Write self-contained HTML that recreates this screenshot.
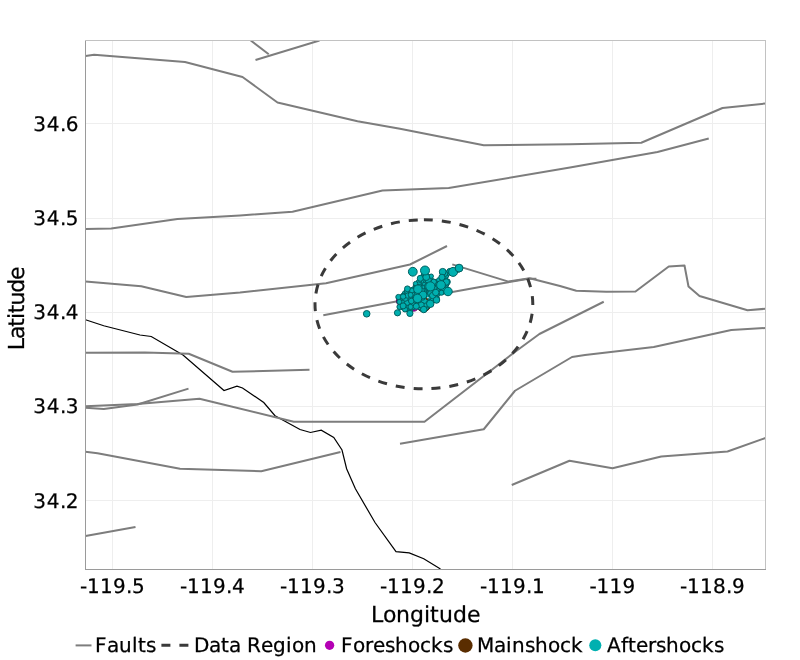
<!DOCTYPE html>
<html lang="en"><head><meta charset="utf-8"><title>Aftershock map</title>
<style>html,body{margin:0;padding:0;background:#fff}body{width:800px;height:660px;overflow:hidden}svg{display:block;will-change:transform}text{font-family:"DejaVu Sans", "Liberation Sans", sans-serif;fill:#000;font-kerning:none;font-variant-ligatures:none;text-rendering:geometricPrecision}</style>
</head><body>
<svg width="800" height="660" viewBox="0 0 800 660">
<rect width="800" height="660" fill="#fff"/>
<g stroke="#eeeeee" stroke-width="1" shape-rendering="crispEdges">
<line x1="112.5" y1="40.5" x2="112.5" y2="569.5"/>
<line x1="212.5" y1="40.5" x2="212.5" y2="569.5"/>
<line x1="312.5" y1="40.5" x2="312.5" y2="569.5"/>
<line x1="412.5" y1="40.5" x2="412.5" y2="569.5"/>
<line x1="512.5" y1="40.5" x2="512.5" y2="569.5"/>
<line x1="612.5" y1="40.5" x2="612.5" y2="569.5"/>
<line x1="712.5" y1="40.5" x2="712.5" y2="569.5"/>
<line x1="85.5" y1="123.5" x2="765.5" y2="123.5"/>
<line x1="85.5" y1="218.5" x2="765.5" y2="218.5"/>
<line x1="85.5" y1="312.5" x2="765.5" y2="312.5"/>
<line x1="85.5" y1="406.5" x2="765.5" y2="406.5"/>
<line x1="85.5" y1="500.5" x2="765.5" y2="500.5"/>
</g>
<clipPath id="c"><rect x="85.0" y="40.0" width="681.0" height="530.0"/></clipPath>
<g clip-path="url(#c)">
<polyline fill="none" stroke="#000" stroke-width="1.2" points="85.50,319.75 103.75,325.75 140.00,335.00 151.25,336.50 183.00,355.00 224.00,390.50 237.00,386.25 242.50,388.00 263.75,402.50 275.00,415.75 300.00,429.50 310.50,432.50 321.25,430.25 333.75,437.50 342.00,450.00 346.60,468.75 355.40,488.75 375.00,522.50 396.00,551.60 409.20,552.90 423.75,558.75 440.50,569.00"/>
<g fill="none" stroke="#7d7d7d" stroke-width="2" stroke-linejoin="round" stroke-linecap="butt">
<polyline points="85.50,55.90 94.10,54.80 185.00,62.00 242.50,77.00 277.50,102.50 357.50,121.25 400.00,128.75 483.75,145.25 570.00,144.25 641.25,142.75 722.50,108.00 765.50,103.50"/>
<polyline points="250.75,40.50 268.75,54.25"/>
<polyline points="255.50,60.00 319.50,40.50"/>
<polyline points="85.50,229.00 111.25,228.50 177.50,219.00 240.00,215.50 292.50,211.75 382.50,190.50 448.75,188.00 570.00,167.50 657.50,152.00 708.75,138.50"/>
<polyline points="85.50,281.50 141.25,286.25 186.25,297.00 240.00,292.50 326.00,283.30 410.00,264.50 447.00,246.00"/>
<polyline points="323.30,315.15 397.50,301.25 453.75,291.75 480.00,286.90 528.50,278.80 536.40,278.80"/>
<polyline points="452.30,264.40 508.50,281.60 529.70,278.20 560.00,286.00 576.25,290.75 606.25,291.75 635.50,291.50 668.75,266.50 684.50,265.50 688.50,286.50 699.50,296.00 747.50,310.25 765.50,308.75"/>
<polyline points="85.50,352.75 145.00,352.50 188.75,353.75 232.50,371.75 309.50,369.75"/>
<polyline points="85.50,407.75 103.75,409.00 137.50,404.50 188.50,388.60"/>
<polyline points="85.50,406.25 137.50,404.00 199.50,398.75 293.75,421.75 424.50,421.75 512.50,353.75 539.40,334.00 603.75,301.75"/>
<polyline points="85.50,451.75 97.50,453.25 180.00,468.75 261.25,471.25 340.50,452.00"/>
<polyline points="400.00,443.75 483.75,429.25 515.00,390.75 572.00,357.00 585.00,355.00 653.75,347.00 731.25,330.00 765.50,328.00"/>
<polyline points="511.75,485.00 569.50,460.75 612.50,468.25 661.25,456.50 727.50,451.50 765.50,438.00"/>
<polyline points="85.50,536.00 135.50,527.00"/>
</g>
<path d="M423.9 219.8 A108.9 84.5 0 1 1 423.9 388.8 A108.9 84.5 0 1 1 423.9 219.8" fill="none" stroke="#3a3a3a" stroke-width="3" stroke-dasharray="9 9"/>
<g fill="#b400b4" stroke="#640064" stroke-width="1"><circle cx="401.00" cy="301.00" r="4.65"/><circle cx="413.80" cy="306.50" r="4.65"/></g>
<g fill="#5a2d00" stroke="#321900" stroke-width="1"><circle cx="423.50" cy="304.50" r="7.20"/></g>
<g fill="#00b0b0" stroke="#006060" stroke-width="1">
<circle cx="401.63" cy="304.53" r="3.20"/><circle cx="437.41" cy="282.42" r="2.60"/><circle cx="420.73" cy="293.83" r="2.40"/><circle cx="444.81" cy="277.87" r="3.00"/><circle cx="434.39" cy="290.84" r="3.00"/><circle cx="424.30" cy="286.50" r="3.20"/><circle cx="444.94" cy="281.78" r="3.00"/><circle cx="427.49" cy="277.93" r="2.60"/><circle cx="434.13" cy="293.26" r="2.80"/><circle cx="429.66" cy="300.86" r="2.40"/><circle cx="444.41" cy="279.50" r="2.80"/><circle cx="447.02" cy="289.34" r="2.40"/><circle cx="429.87" cy="281.85" r="3.20"/><circle cx="426.55" cy="291.68" r="2.60"/><circle cx="402.34" cy="307.02" r="2.40"/><circle cx="442.48" cy="282.20" r="3.20"/><circle cx="430.11" cy="287.46" r="3.00"/><circle cx="414.54" cy="291.34" r="2.80"/><circle cx="441.01" cy="288.70" r="3.00"/><circle cx="422.43" cy="300.75" r="2.80"/><circle cx="424.99" cy="295.88" r="2.80"/><circle cx="428.55" cy="284.65" r="3.00"/><circle cx="419.01" cy="300.14" r="2.60"/><circle cx="429.20" cy="277.28" r="2.80"/><circle cx="439.61" cy="282.17" r="2.40"/><circle cx="405.15" cy="293.51" r="2.86"/><circle cx="404.97" cy="302.28" r="2.60"/><circle cx="406.12" cy="304.77" r="2.60"/><circle cx="430.98" cy="289.20" r="2.60"/><circle cx="419.31" cy="304.70" r="3.20"/><circle cx="425.97" cy="294.10" r="3.20"/><circle cx="439.93" cy="287.27" r="3.00"/><circle cx="425.82" cy="306.76" r="3.20"/><circle cx="428.49" cy="302.46" r="3.00"/><circle cx="428.57" cy="298.64" r="2.80"/><circle cx="428.10" cy="288.62" r="2.40"/><circle cx="418.57" cy="293.65" r="2.40"/><circle cx="411.79" cy="304.58" r="3.00"/><circle cx="433.36" cy="285.15" r="2.60"/><circle cx="428.29" cy="294.08" r="3.00"/><circle cx="411.13" cy="290.90" r="3.20"/><circle cx="425.87" cy="271.39" r="2.40"/><circle cx="411.72" cy="300.68" r="3.20"/><circle cx="436.31" cy="298.29" r="3.08"/><circle cx="402.70" cy="297.86" r="2.80"/><circle cx="429.81" cy="296.07" r="2.60"/><circle cx="423.69" cy="293.81" r="2.60"/><circle cx="423.53" cy="302.53" r="2.40"/><circle cx="430.40" cy="302.36" r="2.40"/><circle cx="421.47" cy="277.86" r="2.51"/><circle cx="423.76" cy="275.34" r="2.60"/><circle cx="449.65" cy="271.58" r="2.69"/><circle cx="403.20" cy="296.23" r="2.97"/><circle cx="420.95" cy="302.15" r="3.20"/><circle cx="426.79" cy="300.94" r="3.20"/><circle cx="438.25" cy="293.74" r="2.40"/><circle cx="408.53" cy="291.97" r="3.20"/><circle cx="431.24" cy="284.15" r="2.40"/><circle cx="409.08" cy="309.84" r="3.00"/><circle cx="400.60" cy="300.64" r="2.60"/><circle cx="433.07" cy="298.58" r="2.80"/><circle cx="425.81" cy="289.01" r="2.60"/><circle cx="407.21" cy="293.49" r="2.60"/><circle cx="426.05" cy="298.13" r="2.40"/><circle cx="420.05" cy="307.29" r="2.57"/><circle cx="424.07" cy="291.05" r="2.80"/><circle cx="418.42" cy="302.86" r="2.40"/><circle cx="416.92" cy="296.20" r="2.60"/><circle cx="410.62" cy="307.22" r="2.40"/><circle cx="421.49" cy="304.57" r="2.60"/><circle cx="415.16" cy="294.07" r="2.40"/><circle cx="425.97" cy="284.38" r="2.60"/><circle cx="442.21" cy="287.13" r="2.60"/><circle cx="420.25" cy="298.34" r="3.00"/><circle cx="431.90" cy="286.29" r="2.80"/><circle cx="414.33" cy="304.69" r="2.60"/><circle cx="441.30" cy="279.95" r="2.40"/><circle cx="458.33" cy="269.31" r="2.90"/><circle cx="400.31" cy="298.67" r="2.40"/><circle cx="443.00" cy="277.84" r="3.20"/><circle cx="443.95" cy="275.16" r="3.00"/><circle cx="440.46" cy="291.60" r="2.60"/><circle cx="445.15" cy="287.39" r="2.60"/><circle cx="435.75" cy="293.36" r="2.60"/><circle cx="403.37" cy="299.98" r="2.60"/><circle cx="406.47" cy="300.00" r="2.80"/><circle cx="442.69" cy="273.10" r="2.80"/><circle cx="452.31" cy="271.52" r="2.60"/><circle cx="434.18" cy="289.60" r="2.40"/><circle cx="406.26" cy="309.26" r="2.32"/><circle cx="436.07" cy="284.29" r="3.20"/><circle cx="414.67" cy="300.21" r="2.60"/><circle cx="454.81" cy="270.61" r="2.40"/><circle cx="425.29" cy="279.60" r="3.20"/><circle cx="421.64" cy="282.06" r="2.80"/><circle cx="400.22" cy="307.46" r="2.40"/><circle cx="427.17" cy="282.23" r="2.60"/><circle cx="412.27" cy="298.27" r="2.80"/><circle cx="425.85" cy="302.38" r="2.40"/><circle cx="434.40" cy="286.79" r="2.40"/><circle cx="407.86" cy="307.40" r="2.80"/><circle cx="418.78" cy="295.75" r="2.80"/><circle cx="418.39" cy="289.47" r="3.20"/><circle cx="430.08" cy="291.79" r="3.00"/><circle cx="434.78" cy="296.09" r="2.80"/><circle cx="410.20" cy="311.81" r="2.40"/><circle cx="424.39" cy="282.04" r="3.00"/><circle cx="438.71" cy="289.73" r="3.00"/><circle cx="423.54" cy="284.30" r="2.40"/><circle cx="432.79" cy="282.35" r="2.60"/><circle cx="409.34" cy="304.92" r="3.20"/><circle cx="407.44" cy="297.65" r="3.00"/><circle cx="424.58" cy="278.21" r="2.40"/><circle cx="416.16" cy="286.35" r="3.00"/><circle cx="418.83" cy="291.52" r="3.20"/><circle cx="406.75" cy="291.09" r="2.40"/><circle cx="411.13" cy="296.51" r="3.00"/><circle cx="417.90" cy="297.95" r="2.60"/><circle cx="409.15" cy="300.17" r="3.20"/><circle cx="427.10" cy="296.43" r="2.60"/><circle cx="406.48" cy="296.27" r="2.40"/><circle cx="413.30" cy="289.52" r="2.60"/><circle cx="437.57" cy="287.19" r="3.00"/><circle cx="442.87" cy="290.92" r="2.60"/><circle cx="413.85" cy="296.30" r="2.60"/><circle cx="441.13" cy="284.40" r="2.60"/><circle cx="416.20" cy="300.46" r="2.60"/><circle cx="426.69" cy="304.77" r="2.60"/><circle cx="446.00" cy="275.41" r="2.80"/><circle cx="415.72" cy="302.84" r="3.00"/><circle cx="423.79" cy="279.96" r="2.60"/><circle cx="412.66" cy="293.97" r="2.60"/><circle cx="405.47" cy="306.93" r="3.00"/><circle cx="423.46" cy="307.78" r="2.60"/><circle cx="432.51" cy="291.03" r="2.80"/><circle cx="453.23" cy="272.98" r="2.80"/><circle cx="420.28" cy="289.58" r="3.00"/><circle cx="434.84" cy="282.16" r="2.80"/><circle cx="421.49" cy="296.41" r="2.80"/><circle cx="402.79" cy="302.87" r="2.80"/><circle cx="409.33" cy="296.53" r="2.40"/><circle cx="409.63" cy="302.42" r="2.80"/><circle cx="423.03" cy="289.48" r="2.40"/><circle cx="412.95" cy="307.13" r="2.60"/><circle cx="409.87" cy="298.38" r="2.40"/><circle cx="424.77" cy="305.10" r="2.80"/><circle cx="422.18" cy="287.48" r="2.60"/><circle cx="448.37" cy="273.03" r="2.40"/><circle cx="431.38" cy="280.11" r="2.40"/><circle cx="424.04" cy="273.81" r="2.60"/><circle cx="416.25" cy="304.93" r="2.60"/><circle cx="435.92" cy="288.64" r="2.40"/><circle cx="437.56" cy="290.88" r="2.40"/><circle cx="444.77" cy="273.54" r="3.00"/><circle cx="412.26" cy="303.03" r="2.80"/><circle cx="417.03" cy="291.60" r="2.40"/><circle cx="420.10" cy="284.95" r="2.40"/><circle cx="420.98" cy="280.66" r="3.00"/><circle cx="432.08" cy="295.37" r="2.60"/><circle cx="404.01" cy="305.28" r="2.40"/><circle cx="418.85" cy="282.32" r="2.80"/><circle cx="410.23" cy="294.18" r="2.40"/><circle cx="414.93" cy="298.02" r="2.60"/><circle cx="426.38" cy="275.38" r="2.60"/><circle cx="415.91" cy="288.76" r="2.80"/><circle cx="418.53" cy="284.89" r="3.00"/><circle cx="430.88" cy="297.91" r="2.40"/><circle cx="430.62" cy="293.33" r="3.00"/><circle cx="445.18" cy="291.13" r="2.80"/><circle cx="424.13" cy="300.32" r="3.20"/><circle cx="432.73" cy="300.38" r="2.60"/><circle cx="448.10" cy="291.31" r="2.40"/><circle cx="444.14" cy="289.35" r="3.20"/><circle cx="438.20" cy="284.66" r="3.00"/><circle cx="428.11" cy="279.93" r="3.20"/><circle cx="446.04" cy="284.51" r="2.80"/><circle cx="427.40" cy="286.32" r="3.00"/><circle cx="443.97" cy="284.30" r="2.60"/><circle cx="419.24" cy="287.14" r="2.80"/><circle cx="407.35" cy="302.52" r="2.80"/><circle cx="422.79" cy="297.61" r="2.60"/><circle cx="405.14" cy="298.11" r="3.20"/><circle cx="421.72" cy="290.85" r="2.80"/>
<circle cx="399.40" cy="301.90" r="2.50"/><circle cx="405.00" cy="309.40" r="2.60"/><circle cx="410.60" cy="306.90" r="2.60"/><circle cx="407.50" cy="295.60" r="2.60"/><circle cx="421.25" cy="305.00" r="3.00"/><circle cx="399.40" cy="306.90" r="2.50"/><circle cx="398.40" cy="297.00" r="2.60"/><circle cx="403.10" cy="296.60" r="2.70"/><circle cx="403.10" cy="305.90" r="3.00"/><circle cx="411.25" cy="301.00" r="2.80"/><circle cx="416.25" cy="306.25" r="3.00"/><circle cx="411.90" cy="290.50" r="2.50"/><circle cx="410.60" cy="294.90" r="2.50"/><circle cx="416.90" cy="295.50" r="3.00"/><circle cx="415.60" cy="283.60" r="2.20"/><circle cx="407.40" cy="288.80" r="2.90"/><circle cx="431.25" cy="276.20" r="2.20"/><circle cx="433.75" cy="281.80" r="2.70"/><circle cx="438.75" cy="279.90" r="2.20"/><circle cx="449.70" cy="271.25" r="2.80"/><circle cx="447.20" cy="281.90" r="3.10"/><circle cx="446.30" cy="282.00" r="3.20"/><circle cx="442.70" cy="271.80" r="3.40"/><circle cx="441.90" cy="277.30" r="3.10"/><circle cx="441.50" cy="292.75" r="2.50"/><circle cx="432.75" cy="295.50" r="3.25"/><circle cx="436.50" cy="300.00" r="3.25"/><circle cx="435.75" cy="292.50" r="3.25"/><circle cx="423.75" cy="309.50" r="3.25"/><circle cx="423.00" cy="295.00" r="4.00"/><circle cx="420.30" cy="278.30" r="3.00"/><circle cx="426.25" cy="277.10" r="3.40"/><circle cx="397.50" cy="312.80" r="3.10"/><circle cx="409.90" cy="313.40" r="3.10"/><circle cx="453.10" cy="271.90" r="4.50"/><circle cx="459.06" cy="268.10" r="3.90"/><circle cx="448.00" cy="291.50" r="4.25"/><circle cx="441.00" cy="285.00" r="4.40"/><circle cx="417.90" cy="289.20" r="4.25"/><circle cx="417.50" cy="298.40" r="4.25"/><circle cx="430.25" cy="303.75" r="3.75"/><circle cx="430.30" cy="286.40" r="4.60"/><circle cx="425.00" cy="270.50" r="4.50"/>
<circle cx="412.80" cy="271.75" r="4.40"/><circle cx="366.70" cy="313.80" r="3.30"/>
</g>
<circle cx="427.0" cy="299.0" r="1.0" fill="#5a2d00"/><circle cx="428.0" cy="297.7" r="0.8" fill="#fff"/>
</g>
<rect x="85.5" y="40.5" width="680.0" height="529.0" fill="none" stroke="#c2c2c2" stroke-width="1" shape-rendering="crispEdges"/>
<g stroke="#9a9a9a" stroke-width="1" shape-rendering="crispEdges"><line x1="85.5" y1="40.5" x2="85.5" y2="569.5"/><line x1="85.5" y1="569.5" x2="765.5" y2="569.5"/></g>
<g stroke="#000" stroke-width="0.25">
<text x="80 87 100 113 126 132" y="593" font-size="20">-119.5</text>
<text x="180 187 200 213 226 232" y="593" font-size="20">-119.4</text>
<text x="280 287 300 313 326 332" y="593" font-size="20">-119.3</text>
<text x="380 387 400 413 426 432" y="593" font-size="20">-119.2</text>
<text x="480 487 500 513 526 532" y="593" font-size="20">-119.1</text>
<text x="589.5 596.5 609.5 622.5" y="593" font-size="20">-119</text>
<text x="680 687 700 713 726 732" y="593" font-size="20">-118.9</text>
<text x="33.3 46.8 59.9 65.8" y="131" font-size="20">34.6</text>
<text x="33.3 46.8 59.9 65.8" y="225" font-size="20">34.5</text>
<text x="33.3 46.8 59.9 65.8" y="319" font-size="20">34.4</text>
<text x="33.3 46.8 59.9 65.8" y="413" font-size="20">34.3</text>
<text x="33.3 46.8 59.9 65.8" y="508" font-size="20">34.2</text>
<text x="371 383 396 410 424 430 439 453 467" y="621.6" font-size="22">Longitude</text>
<text transform="translate(24.2 350.3) rotate(-90)" font-size="22" x="0.00 11.20 23.52 31.40 36.98 44.86 57.60 70.36" y="0">Latitude</text>
<text x="95 107 119 132 138 146" y="652" font-size="20">Faults</text>
<text x="194 209 221 229 241 247 261 273 286 292 304" y="652" font-size="20">Data Region</text>
<text x="341 353 365 373 385 395 408 420 431 443" y="652" font-size="20">Foreshocks</text>
<text x="477 494 506 512 525 535 548 560 571" y="652" font-size="20">Mainshock</text>
<text x="607 621 628 636 648 656 666 679 691 702 714" y="652" font-size="20">Aftershocks</text>
</g>
<line x1="75.6" y1="645.4" x2="91.5" y2="645.4" stroke="#7d7d7d" stroke-width="2"/>
<line x1="161.4" y1="645.3" x2="188.5" y2="645.3" stroke="#3a3a3a" stroke-width="3" stroke-dasharray="9 9"/>
<circle cx="329.6" cy="645.3" r="4.65" fill="#b400b4"/>
<circle cx="465.4" cy="645.5" r="7.2" fill="#5a2d00"/>
<circle cx="595.3" cy="645.2" r="6.05" fill="#00b0b0"/>
</svg>
</body></html>
